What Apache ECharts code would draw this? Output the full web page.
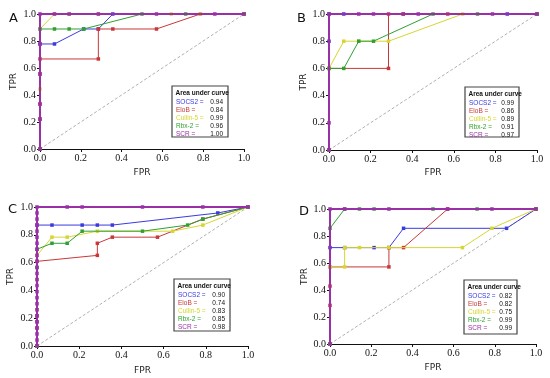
<!DOCTYPE html>
<html><head><meta charset="utf-8">
<script src="https://cdn.jsdelivr.net/npm/echarts@6/dist/echarts.min.js"></script>
<style>html,body{margin:0;padding:0;background:#fff}#c{width:550px;height:378px}</style>
</head><body><div id="c"></div>
<script>
const seriesNames = ['SOCS2','EloB','Cullin-5','Rbx-2','SCR'];
const seriesColors = ['#3a3ae0','#c83838','#d6d630','#30a030','#9a30a8'];
const panelLetters = ['A','B','C','D'];
const tickLabels = ['0.0','0.2','0.4','0.6','0.8','1.0'];

// Panel A
const A_SOCS2 = [[0,0],[0,0.778],[0.071,0.778],[0.214,0.889],[0.286,0.889],[0.357,1],[1,1]];
const A_EloB  = [[0,0],[0,0.222],[0,0.333],[0,0.556],[0,0.667],[0.286,0.667],[0.286,0.889],[0.357,0.889],[0.571,0.889],[0.786,1],[1,1]];
const A_Cul   = [[0,0],[0,0.444],[0,0.889],[0.071,1],[0.143,1],[0.286,1],[0.643,1],[0.786,1],[1,1]];
const A_Rbx   = [[0,0],[0,0.889],[0.071,0.889],[0.143,0.889],[0.214,0.889],[0.5,1],[0.714,1],[1,1]];
const A_SCR   = [[0,0],[0,0.222],[0,0.333],[0,0.556],[0,0.778],[0,1],[0.071,1],[0.143,1],[0.286,1],[0.571,1],[0.857,1],[1,1]];
const A_AUC = ['0.94','0.84','0.99','0.96','1.00'];

// Panel B
const B_SOCS2 = [[0,0],[0,0.8],[0,1],[0.071,1],[0.357,1],[0.857,1],[1,1]];
const B_EloB  = [[0,0],[0,0.6],[0.286,0.6],[0.286,1],[0.357,1],[0.571,1],[1,1]];
const B_Cul   = [[0,0],[0,0.6],[0.071,0.8],[0.143,0.8],[0.286,0.8],[0.643,1],[1,1]];
const B_Rbx   = [[0,0],[0,0.6],[0.071,0.6],[0.143,0.8],[0.214,0.8],[0.5,1],[0.714,1],[1,1]];
const B_SCR   = [[0,0],[0,0.2],[0,1],[0.143,1],[0.214,1],[0.429,1],[0.786,1],[1,1]];
const B_AUC = ['0.99','0.86','0.89','0.91','0.97'];

// Panel C
const C_SOCS2 = [[0,0],[0,0.87],[0.071,0.87],[0.214,0.87],[0.286,0.87],[0.357,0.87],[0.857,0.957],[1,1]];
const C_EloB  = [[0,0],[0,0.13],[0,0.174],[0,0.217],[0,0.609],[0.286,0.652],[0.286,0.739],[0.357,0.783],[0.571,0.783],[0.786,0.913],[1,1]];
const C_Cul   = [[0,0],[0,0.261],[0,0.478],[0,0.652],[0.071,0.783],[0.143,0.783],[0.286,0.826],[0.643,0.826],[0.786,0.87],[1,1]];
const C_Rbx   = [[0,0],[0,0.565],[0,0.696],[0.071,0.739],[0.143,0.739],[0.214,0.826],[0.5,0.826],[0.714,0.87],[0.786,0.913],[1,1]];
const C_SCR   = [[0,0],[0,0.043],[0,0.087],[0,0.13],[0,0.174],[0,0.217],[0,0.261],[0,0.304],[0,0.348],[0,0.391],[0,0.435],[0,0.478],[0,0.522],[0,0.565],[0,0.609],[0,0.652],[0,0.696],[0,0.739],[0,0.783],[0,0.826],[0,0.87],[0,0.913],[0,0.957],[0,1],[0.143,1],[0.214,1],[0.5,1],[0.786,1],[1,1]];
const C_AUC = ['0.90','0.74','0.83','0.85','0.98'];

// Panel D
const D_SOCS2 = [[0,0],[0,0.714],[0.071,0.714],[0.214,0.714],[0.286,0.714],[0.357,0.857],[0.857,0.857],[1,1]];
const D_EloB  = [[0,0],[0,0.286],[0,0.429],[0,0.571],[0.286,0.571],[0.286,0.714],[0.357,0.714],[0.571,1],[1,1]];
const D_Cul   = [[0,0],[0,0.571],[0.071,0.571],[0.071,0.714],[0.143,0.714],[0.286,0.714],[0.643,0.714],[0.786,0.857],[1,1]];
const D_Rbx   = [[0,0],[0,0.857],[0.071,1],[0.143,1],[0.214,1],[0.5,1],[0.714,1],[1,1]];
const D_SCR   = [[0,0],[0,1],[0.071,1],[0.286,1],[0.571,1],[0.786,1],[1,1]];
const D_AUC = ['0.82','0.82','0.75','0.99','0.99'];

const diagonal = [[0,0],[1,1]];

const panels = [
  {data:[A_SOCS2,A_EloB,A_Cul,A_Rbx,A_SCR], auc:A_AUC},
  {data:[B_SOCS2,B_EloB,B_Cul,B_Rbx,B_SCR], auc:B_AUC},
  {data:[C_SOCS2,C_EloB,C_Cul,C_Rbx,C_SCR], auc:C_AUC},
  {data:[D_SOCS2,D_EloB,D_Cul,D_Rbx,D_SCR], auc:D_AUC}
];

// layout
const grids = [
  {left:40, top:14, width:204, height:135},
  {left:329, top:14, width:208, height:136},
  {left:37, top:207, width:211, height:139},
  {left:330, top:209, width:206, height:135}
];
const xNameGap = [19,18,20,19];
const yNameGap = [22,21,22,21];
const letterPos = [[9,12],[297,12],[8,203],[299,205]];
const boxes = [
  {x:172,y:86,w:56,h:51},
  {x:465,y:87,w:54,h:50},
  {x:174,y:279,w:56,h:52},
  {x:464,y:280,w:53,h:54}
];

const tickFont = '"Liberation Serif", "DejaVu Serif", serif';
const nameFont = '"DejaVu Sans", sans-serif';

const xAxes = [], yAxes = [], series = [], graphics = [];
panels.forEach((p, i) => {
  xAxes.push({
    gridIndex:i, type:'value', min:0, max:1, interval:0.2,
    name:'FPR', nameLocation:'middle', nameGap:xNameGap[i],
    nameTextStyle:{fontFamily:nameFont, fontSize:9, color:'#222'},
    axisLine:{lineStyle:{color:'#111', width:1}},
    axisTick:{show:true, length:3, lineStyle:{color:'#111'}},
    axisLabel:{fontFamily:tickFont, fontSize:10, color:'#111', margin:4,
      formatter:v => tickLabels[Math.round(v*5)]},
    splitLine:{show:false}
  });
  yAxes.push({
    gridIndex:i, type:'value', min:0, max:1, interval:0.2,
    name:'TPR', nameLocation:'middle', nameGap:yNameGap[i],
    nameTextStyle:{fontFamily:nameFont, fontSize:9, color:'#222'},
    axisLine:{show:true, lineStyle:{color:'#111', width:1}},
    axisTick:{show:true, length:3, lineStyle:{color:'#111'}},
    axisLabel:{fontFamily:tickFont, fontSize:10, color:'#111', margin:4,
      formatter:v => tickLabels[Math.round(v*5)]},
    splitLine:{show:false}
  });
  series.push({
    type:'line', xAxisIndex:i, yAxisIndex:i, data:diagonal, symbol:'none',
    lineStyle:{color:'#b0b0b0', width:1, type:[3,2]}, silent:true, z:1
  });
  p.data.forEach((d, k) => {
    const isSCR = k === 4;
    series.push({
      type:'line', xAxisIndex:i, yAxisIndex:i, data:d, name:seriesNames[k],
      symbol:'rect', symbolSize:3.5, showSymbol:true,
      itemStyle:{color:seriesColors[k]},
      lineStyle:{color:seriesColors[k], width:isSCR?2:1},
      z:2+k, animation:false
    });
  });
  graphics.push({type:'text', left:letterPos[i][0], top:letterPos[i][1],
    style:{text:panelLetters[i], font:'13px "DejaVu Sans"', fill:'#111'}});
  const b = boxes[i];
  const children = [
    {type:'rect', shape:{x:0,y:0,width:b.w,height:b.h},
      style:{fill:'#fff', stroke:'#444', lineWidth:1.2}},
    {type:'text', x:3.5, y:4, style:{text:'Area under curve', font:'bold 6.5px "Liberation Sans"', fill:'#111'}}
  ];
  seriesNames.forEach((n, k) => {
    children.push({type:'text', x:4, y:12.5 + k*8, style:{text:n + ' =', font:'6.5px "Liberation Sans"', fill:seriesColors[k]}});
    children.push({type:'text', x:b.w-5, y:12.5 + k*8, style:{text:p.auc[k], font:'6.5px "Liberation Sans"', fill:'#111', align:'right'}});
  });
  graphics.push({type:'group', x:b.x, y:b.y, z:100, children});
});

const chart = echarts.init(document.getElementById('c'), null, {renderer:'canvas'});
chart.setOption({
  animation:false,
  backgroundColor:'#fff',
  grid:grids,
  xAxis:xAxes,
  yAxis:yAxes,
  series:series,
  graphic:graphics
});
</script></body></html>
